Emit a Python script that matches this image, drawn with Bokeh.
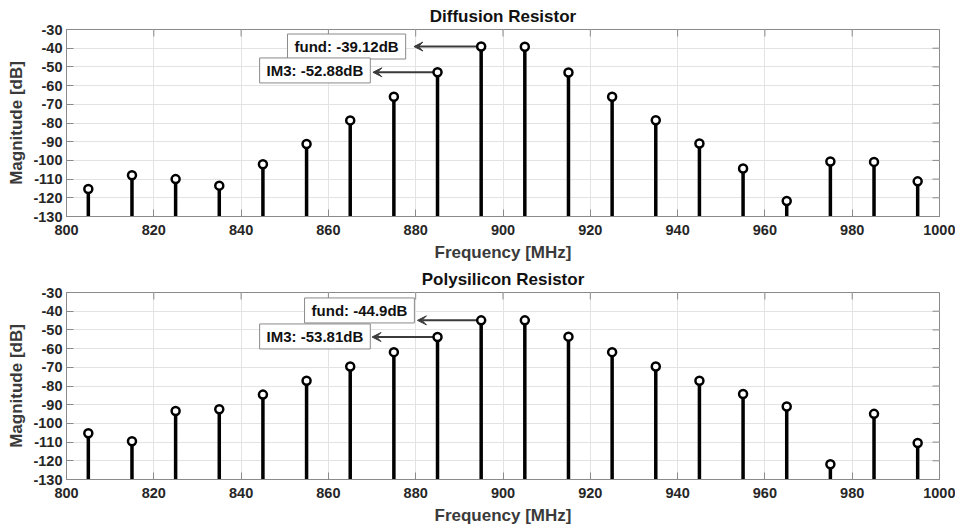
from bokeh.plotting import figure
from bokeh.layouts import column
from bokeh.models import (ColumnDataSource, FixedTicker, Label,
                          Arrow, VeeHead, Range1d)
from bokeh.embed import file_html
from bokeh.resources import INLINE

# ---- data ----
freq_mhz = [805, 815, 825, 835, 845, 855, 865, 875, 885, 895,
            905, 915, 925, 935, 945, 955, 965, 975, 985, 995]
diffusion_db = [-115.3, -107.9, -110.0, -113.5, -102.1, -91.2, -78.6, -66.0, -52.88, -39.12,
                -39.2, -53.0, -66.0, -78.5, -91.0, -104.3, -121.7, -100.6, -100.8, -111.2]
poly_db = [-105.3, -109.5, -93.4, -92.4, -84.6, -77.2, -69.6, -61.9, -53.81, -44.9,
           -44.9, -53.6, -61.9, -69.6, -77.2, -84.3, -91.0, -121.8, -94.9, -110.5]
x_ticks = [800, 820, 840, 860, 880, 900, 920, 940, 960, 980, 1000]
y_ticks = [-130, -120, -110, -100, -90, -80, -70, -60, -50, -40, -30]
x_tick_labels = ["800", "820", "840", "860", "880", "900", "920", "940", "960", "980", "1000"]
y_tick_labels = ["-130", "-120", "-110", "-100", "-90", "-80", "-70", "-60", "-50", "-40", "-30"]
titles = ["Diffusion Resistor", "Polysilicon Resistor"]
x_label = "Frequency [MHz]"
y_label = "Magnitude [dB]"

# annotations: (text, marker x, marker y, box right x, box centre y, arrow tip x)
diff_notes = [("fund: -39.12dB", 895, -39.12, 877.7, -39.1, 879.6),
              ("IM3: -52.88dB", 885, -52.88, 869.6, -51.9, 870.2)]
poly_notes = [("fund: -44.9dB", 895, -44.9, 879.7, -39.6, 880.4),
              ("IM3: -53.81dB", 885, -53.81, 869.6, -53.5, 870.0)]

FONT = "Liberation Sans"
TXT = "#262626"
AX = "#8a8a8a"


def make_panel(title, values, notes, top_border, bottom_border):
    p = figure(frame_width=873, frame_height=187, output_backend="svg",
               toolbar_location=None, x_range=Range1d(x_ticks[0], x_ticks[-1]),
               y_range=Range1d(y_ticks[0], y_ticks[-1]),
               min_border_left=66, min_border_right=16,
               min_border_top=top_border, min_border_bottom=bottom_border)
    p.title.text = title
    p.title.align = "center"
    p.title.text_font = FONT
    p.title.text_font_size = "17px"
    p.title.text_font_style = "bold"
    p.title.text_color = "#111111"
    p.title.standoff = 7
    p.outline_line_color = AX
    p.outline_line_width = 1

    for ax in (p.xaxis[0], p.yaxis[0]):
        ax.major_label_text_font = FONT
        ax.major_label_text_font_size = "14.5px"
        ax.major_label_text_font_style = "bold"
        ax.major_label_text_color = TXT
        ax.axis_label_text_font = FONT
        ax.axis_label_text_font_size = "17px"
        ax.axis_label_text_font_style = "bold"
        ax.axis_label_text_color = "#3a3a3a"
        ax.axis_line_color = AX
        ax.major_tick_line_color = AX
        ax.major_tick_in = 7
        ax.major_tick_out = 0
        ax.minor_tick_line_color = None
    p.xaxis[0].ticker = FixedTicker(ticks=x_ticks)
    p.yaxis[0].ticker = FixedTicker(ticks=y_ticks)
    p.xaxis[0].major_label_overrides = dict(zip(x_ticks, x_tick_labels))
    p.yaxis[0].major_label_overrides = dict(zip(y_ticks, y_tick_labels))
    p.xaxis[0].axis_label = x_label
    p.yaxis[0].axis_label = y_label
    p.xaxis[0].major_label_standoff = 8
    p.xaxis[0].axis_label_standoff = 5
    p.yaxis[0].major_label_standoff = 4
    p.yaxis[0].axis_label_standoff = 4

    p.xgrid.ticker = FixedTicker(ticks=x_ticks)
    p.ygrid.ticker = FixedTicker(ticks=y_ticks)
    p.grid.grid_line_color = "#e3e3e3"
    p.grid.grid_line_width = 1

    # box ticks on the top and right edges (MATLAB "box on")
    p.ray(x=x_ticks, y=[y_ticks[-1]] * len(x_ticks), length=7, length_units="screen",
          angle=-90, angle_units="deg", line_color=AX, line_width=1)
    p.ray(x=[x_ticks[-1]] * len(y_ticks), y=y_ticks, length=7, length_units="screen",
          angle=180, angle_units="deg", line_color=AX, line_width=1)

    for text, mx, my, bx, by, tip in notes:
        p.add_layout(Arrow(x_start=mx, y_start=my, x_end=tip, y_end=my,
                           line_color="#3a3a3a", line_width=2,
                           end=VeeHead(size=9, fill_color="#3a3a3a",
                                       line_color="#3a3a3a", line_width=1),
                           level="underlay"))

    base = [y_ticks[0]] * len(freq_mhz)
    src = ColumnDataSource(dict(x=freq_mhz, y=values, base=base))
    p.segment(x0="x", y0="base", x1="x", y1="y", source=src,
              line_color="black", line_width=3.5)
    p.scatter(x="x", y="y", source=src, marker="circle", size=8,
              line_color="black", line_width=2.5, fill_color="white")

    for text, mx, my, bx, by, tip in notes:
        p.add_layout(Label(x=bx, y=by, text=text, text_align="right",
                           text_baseline="middle", text_font=FONT,
                           text_font_size="15px", text_font_style="bold",
                           text_color="#111111", background_fill_color="white",
                           border_line_color="#8a8a8a", border_line_width=1,
                           padding=(7, 4)))
    return p


p1 = make_panel(titles[0], diffusion_db, diff_notes, 29, 48)
p2 = make_panel(titles[1], poly_db, poly_notes, 25, 47)
layout = column(p1, p2, spacing=0)

open("out.html", "w").write(file_html(layout, INLINE))
